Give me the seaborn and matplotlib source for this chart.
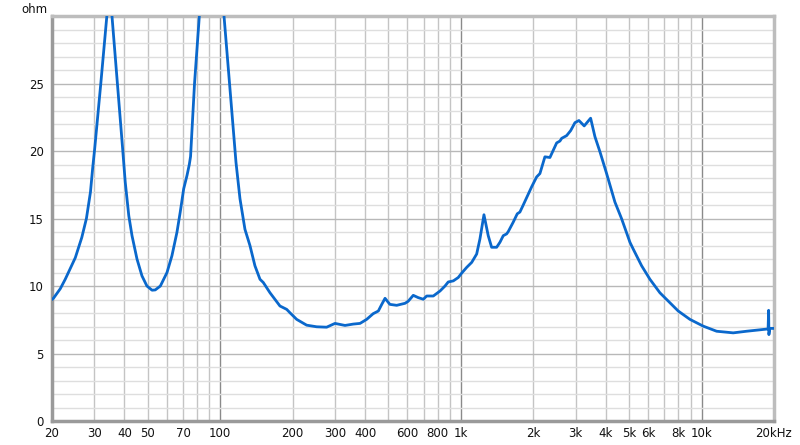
import matplotlib
matplotlib.use("Agg")
import matplotlib.pyplot as plt
import seaborn as sns
import pandas as pd
from matplotlib.ticker import FixedLocator, NullFormatter

freq_hz = [20, 20.3, 21.65, 22.7, 25.0, 26.6, 27.8, 28.9, 29.5, 30.1, 31.9, 33.8, 34.7, 35.5, 37.4,
           39.3, 40.3, 41.7, 43.0, 45.1, 47.3, 49.6, 52.1, 53.7, 56.4, 60.1, 63.0, 66.1, 68.2,
           70.5, 72.8, 74.4, 75.3, 78.2, 81.9, 91.3, 103.7, 109.4, 113.3, 116.3, 120.8, 126.7,
           132.9, 139.4, 146.3, 151.0, 161.0, 177.1, 188.9, 194.9, 207.8, 228.6, 251.6, 276.8,
           299.8, 330, 357, 381, 406, 432, 454, 469, 484, 507, 541, 586, 604, 634, 665,
           698, 721, 768, 819, 859, 886, 930, 975, 1007, 1057, 1109, 1163, 1200, 1247,
           1299, 1342, 1408, 1453, 1500, 1549, 1573, 1650, 1715, 1759, 1816, 1967, 2064,
           2130, 2234, 2344, 2500, 2580, 2623, 2750, 2858, 2978, 3094, 3254, 3350, 3460,
           3606, 3782, 4032, 4365, 4655, 5040, 5200, 5636, 6102, 6713, 7268, 7998, 8946,
           10156, 11552, 13538, 15384, 18044, 18900, 19000, 19050, 19200, 20000]
impedance_ohm = [9.0, 9.1, 9.8, 10.5, 12.1, 13.6, 15.0, 16.97, 18.7, 20.2, 25.0, 30.0, 33.0, 30.0, 25.0,
                 20.2, 17.7, 15.2, 13.73, 12.0, 10.75, 10.0, 9.69, 9.71, 10.0, 11.0, 12.24, 13.98, 15.47,
                 17.2, 18.2, 19.0, 19.6, 25.0, 30.0, 42.0, 30.0, 25.0, 21.6, 19.15, 16.47, 14.2,
                 13.0, 11.5, 10.5, 10.26, 9.5, 8.52, 8.27, 8.02, 7.53, 7.1, 6.98, 6.95,
                 7.23, 7.08, 7.18, 7.23, 7.53, 7.95, 8.15, 8.64, 9.09, 8.64, 8.57, 8.72, 8.87, 9.31, 9.14,
                 9.02, 9.26, 9.26, 9.63, 10.0, 10.3, 10.38, 10.63, 10.95, 11.38, 11.75, 12.37, 13.49, 15.28,
                 13.73, 12.87, 12.87, 13.24, 13.73, 13.86, 14.03, 14.73, 15.35, 15.48, 16.0, 17.34, 18.08,
                 18.33, 19.57, 19.52, 20.6, 20.74, 20.94, 21.14, 21.51, 22.1, 22.26, 21.86, 22.13, 22.43,
                 21.06, 19.95, 18.33, 16.22, 14.98, 13.24, 12.74, 11.5, 10.5, 9.5, 8.89, 8.15, 7.53,
                 7.03, 6.65, 6.53, 6.65, 6.78, 6.82, 8.2, 6.4, 6.86, 6.86]

x_tick_values = [20, 30, 40, 50, 70, 100, 200, 300, 400, 600, 800, 1000, 2000, 3000,
                 4000, 5000, 6000, 8000, 10000, 20000]
x_tick_labels = ["20", "30", "40", "50", "70", "100", "200", "300", "400", "600", "800",
                 "1k", "2k", "3k", "4k", "5k", "6k", "8k", "10k", "20kHz"]
y_tick_values = [0, 5, 10, 15, 20, 25]
y_tick_labels = ["0", "5", "10", "15", "20", "25"]

df = pd.DataFrame({"freq": freq_hz, "z": impedance_ohm})

sns.set_style("white")
plt.rcParams['font.family'] = ['DejaVu Sans']

fig = plt.figure(figsize=(8, 4.45), dpi=100)
ax = fig.add_axes([0.065, 0.0539, 0.9025, 0.9101])
ax.set_xscale("log")
ax.set_xlim(20, 20000)
ax.set_ylim(0, 30)

# grid lines
minor_x = []
for dec in [10, 100, 1000]:
    for m in range(2, 10):
        v = dec * m
        if 20 <= v <= 20000:
            minor_x.append(v)
minor_x.append(20000)
for v in minor_x:
    ax.axvline(v, color="#c4c4c4", lw=1.0, zorder=1)
for v in [100, 1000, 10000]:
    ax.axvline(v, color="#8a8a8a", lw=1.0, zorder=1)
for v in range(1, 30):
    if v % 5 == 0:
        ax.axhline(v, color="#b8b8b8", lw=1.0, zorder=1)
    else:
        ax.axhline(v, color="#dedede", lw=1.0, zorder=1)

sns.lineplot(data=df, x="freq", y="z", ax=ax, color="#0a68cc", lw=2.0,
             sort=False, estimator=None, zorder=3)

ax.xaxis.set_major_locator(FixedLocator(x_tick_values))
ax.set_xticklabels(x_tick_labels)
ax.xaxis.set_minor_formatter(NullFormatter())
ax.xaxis.set_minor_locator(FixedLocator([]))
ax.set_yticks(y_tick_values)
ax.set_yticklabels(y_tick_labels)
ax.tick_params(axis="both", length=0, labelsize=8.5, colors="#111111")
ax.tick_params(axis="x", pad=4)
ax.tick_params(axis="y", pad=6)
ax.set_xlabel("")
ax.set_ylabel("")

for s in ["left", "bottom"]:
    ax.spines[s].set_color("#9a9a9a")
    ax.spines[s].set_linewidth(2.5)
for s in ["top", "right"]:
    ax.spines[s].set_color("#bdbdbd")
    ax.spines[s].set_linewidth(2.5)

fig.text(0.0425, 0.993, "ohm", ha="center", va="top", fontsize=8.5, color="#111111")

fig.savefig("out.png", dpi=100, facecolor="white")
